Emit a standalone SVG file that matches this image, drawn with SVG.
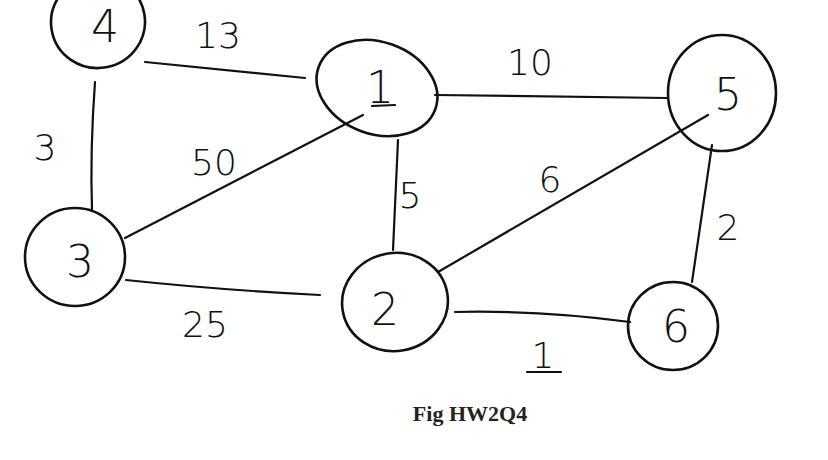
<svg xmlns="http://www.w3.org/2000/svg" width="828" height="460" viewBox="0 0 828 460">
<style>
.n{fill:none;stroke:#111;stroke-width:2.6}
.e{fill:none;stroke:#111;stroke-width:2.2;stroke-linecap:round}
.t{font-family:"DejaVu Sans","Liberation Sans",sans-serif;font-size:44px;fill:#111;text-anchor:middle;font-weight:300}
.w{font-family:"DejaVu Sans","Liberation Sans",sans-serif;font-size:36px;fill:#111;text-anchor:middle;font-weight:300}
.c{font-family:"Liberation Serif",serif;font-size:22px;font-weight:bold;fill:#222;text-anchor:middle}
</style>
<rect width="828" height="460" fill="#fff"/>
<g id="edges">
<path class="e" d="M145,62 L305,78"/>
<path class="e" d="M95,82 Q90,150 92,210"/>
<path class="e" d="M125,238 L363,115"/>
<path class="e" d="M435,95 L668,98"/>
<path class="e" d="M398,140 L393,250"/>
<path class="e" d="M708,115 L438,272"/>
<path class="e" d="M126,280 Q220,290 320,295"/>
<path class="e" d="M455,312 Q540,310 630,322"/>
<path class="e" d="M712,145 L692,282"/>
</g>
<g id="node4"><ellipse class="n" cx="98" cy="22" rx="47" ry="46" transform="rotate(-10 98 22)"/><text class="t" x="105" y="42">4</text></g>
<g id="node1"><ellipse class="n" cx="377" cy="88" rx="62" ry="46" transform="rotate(20 377 88)"/><text class="t" x="380" y="103">1</text><path class="e" d="M372,106 L395,105"/></g>
<g id="node5"><ellipse class="n" cx="722" cy="93" rx="54" ry="58"/><text class="t" x="728" y="110">5</text></g>
<g id="node3"><ellipse class="n" cx="75" cy="257" rx="50" ry="49"/><text class="t" x="80" y="277">3</text></g>
<g id="node2"><ellipse class="n" cx="395" cy="302" rx="53" ry="49" transform="rotate(-10 395 302)"/><text class="t" x="385" y="325">2</text></g>
<g id="node6"><ellipse class="n" cx="673" cy="326" rx="45" ry="44"/><text class="t" x="676" y="342">6</text></g>
<g id="labels">
<text class="w" x="218" y="48">13</text>
<text class="w" x="530" y="75">10</text>
<text class="w" x="45" y="160">3</text>
<text class="w" x="214" y="175">50</text>
<text class="w" x="410" y="208">5</text>
<text class="w" x="550" y="192">6</text>
<text class="w" x="728" y="240">2</text>
<text class="w" x="205" y="337">25</text>
<text class="w" x="543" y="368">1</text>
<path class="e" d="M527,372 L561,372"/>
<text class="c" x="470" y="421">Fig HW2Q4</text>
</g>
</svg>
